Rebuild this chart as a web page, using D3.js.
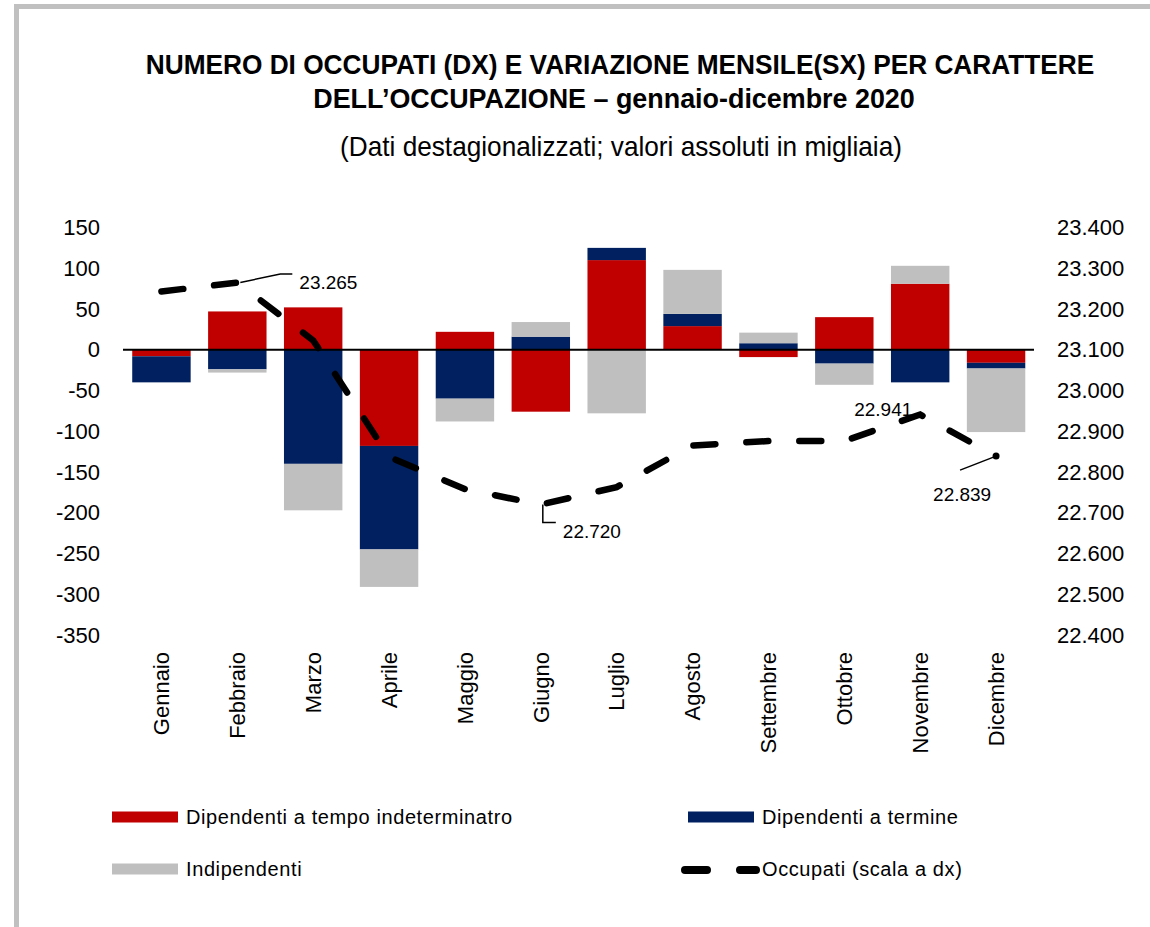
<!DOCTYPE html>
<html>
<head>
<meta charset="utf-8">
<script src="https://cdn.jsdelivr.net/npm/d3@7"></script>
<style>
  html, body { margin: 0; padding: 0; background: #fff; }
  svg { display: block; }
  text { font-family: "Liberation Sans", Arial, sans-serif; fill: #000; }
  .narrow { font-family: "Liberation Sans Narrow", "Arial Narrow", "Liberation Sans", sans-serif; }
</style>
</head>
<body>
<svg id="chart"></svg>
<script>
// months on the x axis
const months = ["Gennaio", "Febbraio", "Marzo", "Aprile", "Maggio", "Giugno",
                "Luglio", "Agosto", "Settembre", "Ottobre", "Novembre", "Dicembre"];
// monthly change, thousands (left axis)
const indeterminato = [-8, 47, 52, -118, 22, -76, 110, 29, -9, 40, 81, -16];
const aTermine      = [-32, -24, -140, -127, -60, 16, 15, 15, 8, -17, -40, -7];
const indipendenti  = [0, -4, -57, -46, -28, 18, -78, 54, 13, -26, 22, -78];
// employed, thousands (right axis)
const occupati = [23243, 23265, 23123, 22837, 22758, 22720, 22763, 22865, 22876, 22876, 22941, 22839];
// axis ticks
const leftTicks  = [150, 100, 50, 0, -50, -100, -150, -200, -250, -300, -350];
const rightTicks = [23400, 23300, 23200, 23100, 23000, 22900, 22800, 22700, 22600, 22500, 22400];
// series names
const seriesNames = ["Dipendenti a tempo indeterminatro", "Dipendenti a termine", "Indipendenti"];
const lineName = "Occupati (scala a dx)";
// labelled points on the line (month index)
const labelled = [1, 5, 10, 11];

const width = 1150, height = 927;
const colors = ["#C00000", "#002060", "#BFBFBF"];

const svg = d3.select("#chart").attr("width", width).attr("height", height);

// frame
svg.append("path")
  .attr("d", "M16.5," + height + "V6.5H" + width)
  .attr("fill", "none").attr("stroke", "#C0C0C0").attr("stroke-width", 5);

// titles, squeezed horizontally to look like a narrow face
function title(txt, cxPos, yPos, size, weight, targetW) {
  const t = svg.append("text").attr("class", "narrow")
    .attr("text-anchor", "middle")
    .attr("font-size", size).attr("font-weight", weight)
    .text(txt);
  const w = t.node().getComputedTextLength();
  const k = Math.min(1, targetW / w);
  t.attr("transform", `translate(${cxPos},${yPos}) scale(${k},1)`);
}
title("NUMERO DI OCCUPATI (DX) E VARIAZIONE MENSILE(SX) PER CARATTERE", 620, 74, 28, "bold", 949);
title("DELL\u2019OCCUPAZIONE \u2013 gennaio-dicembre 2020", 614, 108, 28, "bold", 602);
title("(Dati destagionalizzati; valori assoluti in migliaia)", 621, 156, 27, "normal", 562);

// scales
const x = d3.scaleBand().domain(months).range([123.5, 1034])
  .paddingInner(0.23).paddingOuter(0.115);
const yL = d3.scaleLinear().domain([-350, 150]).range([635, 227.5]);
const yR = d3.scaleLinear().domain([22400, 23400]).range([635, 227.5]);

// stacked bars (positives up, negatives down, in series order)
const rows = months.map((m, i) => ({ m, s0: indeterminato[i], s1: aTermine[i], s2: indipendenti[i] }));
const stack = d3.stack().keys(["s0", "s1", "s2"]).offset(d3.stackOffsetDiverging);
const layers = stack(rows);

svg.append("g").selectAll("g")
  .data(layers)
  .join("g")
  .attr("fill", (d, i) => colors[i])
  .selectAll("rect")
  .data(d => d)
  .join("rect")
  .attr("x", d => x(d.data.m))
  .attr("width", x.bandwidth())
  .attr("y", d => yL(Math.max(d[0], d[1])))
  .attr("height", d => Math.abs(yL(d[0]) - yL(d[1])));

// zero line
svg.append("line")
  .attr("x1", 123).attr("x2", 1034)
  .attr("y1", yL(0)).attr("y2", yL(0))
  .attr("stroke", "#000").attr("stroke-width", 2);

// left axis
const axL = svg.append("g").attr("transform", "translate(100,0)")
  .call(d3.axisLeft(yL).tickValues(leftTicks).tickSize(0).tickPadding(0)
    .tickFormat(d => String(d)));
axL.select(".domain").remove();
axL.selectAll("text").attr("font-size", 22).attr("font-family", "Liberation Sans, Arial, sans-serif");

// right axis
const fmtR = d => d3.format(",")(d).replace(",", ".");
const axR = svg.append("g").attr("transform", "translate(1057,0)")
  .call(d3.axisRight(yR).tickValues(rightTicks).tickSize(0).tickPadding(0).tickFormat(fmtR));
axR.select(".domain").remove();
axR.selectAll("text").attr("font-size", 22).attr("font-family", "Liberation Sans, Arial, sans-serif");

// x labels, rotated
const axX = svg.append("g").attr("transform", "translate(0,652)")
  .call(d3.axisBottom(x).tickSize(0).tickPadding(0));
axX.select(".domain").remove();
axX.selectAll("text")
  .attr("font-size", 22).attr("font-family", "Liberation Sans, Arial, sans-serif")
  .attr("text-anchor", "end")
  .attr("transform", "rotate(-90)")
  .attr("x", 0).attr("y", 0).attr("dy", "0.35em");

// occupati line
const cx = i => x(months[i]) + x.bandwidth() / 2;
const line = d3.line().x((d, i) => cx(i)).y(d => yR(d));
svg.append("path")
  .datum(occupati)
  .attr("d", line)
  .attr("fill", "none").attr("stroke", "#000")
  .attr("stroke-width", 6.5).attr("stroke-linecap", "round")
  .attr("stroke-dasharray", "22,31");

// data labels with leader lines (offsets from the point)
const labelOffsets = {
  1:  { dx: 62,  dy: 0,   lead: [[3, 0], [43, -8.5], [55, -8.5]] },
  5:  { dx: 22,  dy: 27,  lead: [[2, 0], [2, 18], [15, 18]] },
  10: { dx: -66, dy: -5,  lead: null },
  11: { dx: -63, dy: 38,  lead: [[0, 0], [-36, 14]] }
};
labelled.forEach(i => {
  const px = cx(i), py = yR(occupati[i]);
  const o = labelOffsets[i];
  if (o.lead) {
    svg.append("path")
      .attr("d", d3.line()(o.lead.map(p => [px + p[0], py + p[1]])))
      .attr("fill", "none").attr("stroke", "#000").attr("stroke-width", 1.5);
  }
  if (i === 11) {
    svg.append("circle").attr("cx", px).attr("cy", py).attr("r", 3.5).attr("fill", "#000");
  }
  svg.append("text")
    .attr("x", px + o.dx).attr("y", py + o.dy).attr("dy", "0.35em")
    .attr("font-size", 19)
    .text(fmtR(occupati[i]));
});

// legend
const legend = [
  { name: seriesNames[0], type: "rect", color: colors[0], x: 112, y: 817 },
  { name: seriesNames[1], type: "rect", color: colors[1], x: 688, y: 817 },
  { name: seriesNames[2], type: "rect", color: colors[2], x: 112, y: 869 },
  { name: lineName, type: "line", color: "#000", x: 688, y: 869 }
];
const lg = svg.append("g").selectAll("g").data(legend).join("g")
  .attr("transform", d => `translate(${d.x},${d.y})`);
lg.filter(d => d.type === "rect").append("rect")
  .attr("x", 0).attr("y", -5.5).attr("width", 66).attr("height", 11)
  .attr("fill", d => d.color);
lg.filter(d => d.type === "line").append("path")
  .attr("d", "M-3,1H68")
  .attr("stroke", "#000").attr("stroke-width", 8).attr("stroke-linecap", "round")
  .attr("stroke-dasharray", "22,33");
lg.append("text")
  .attr("x", 74).attr("y", 0).attr("dy", "0.35em")
  .attr("font-size", 20).attr("letter-spacing", 0.6)
  .text(d => d.name);
</script>
</body>
</html>
